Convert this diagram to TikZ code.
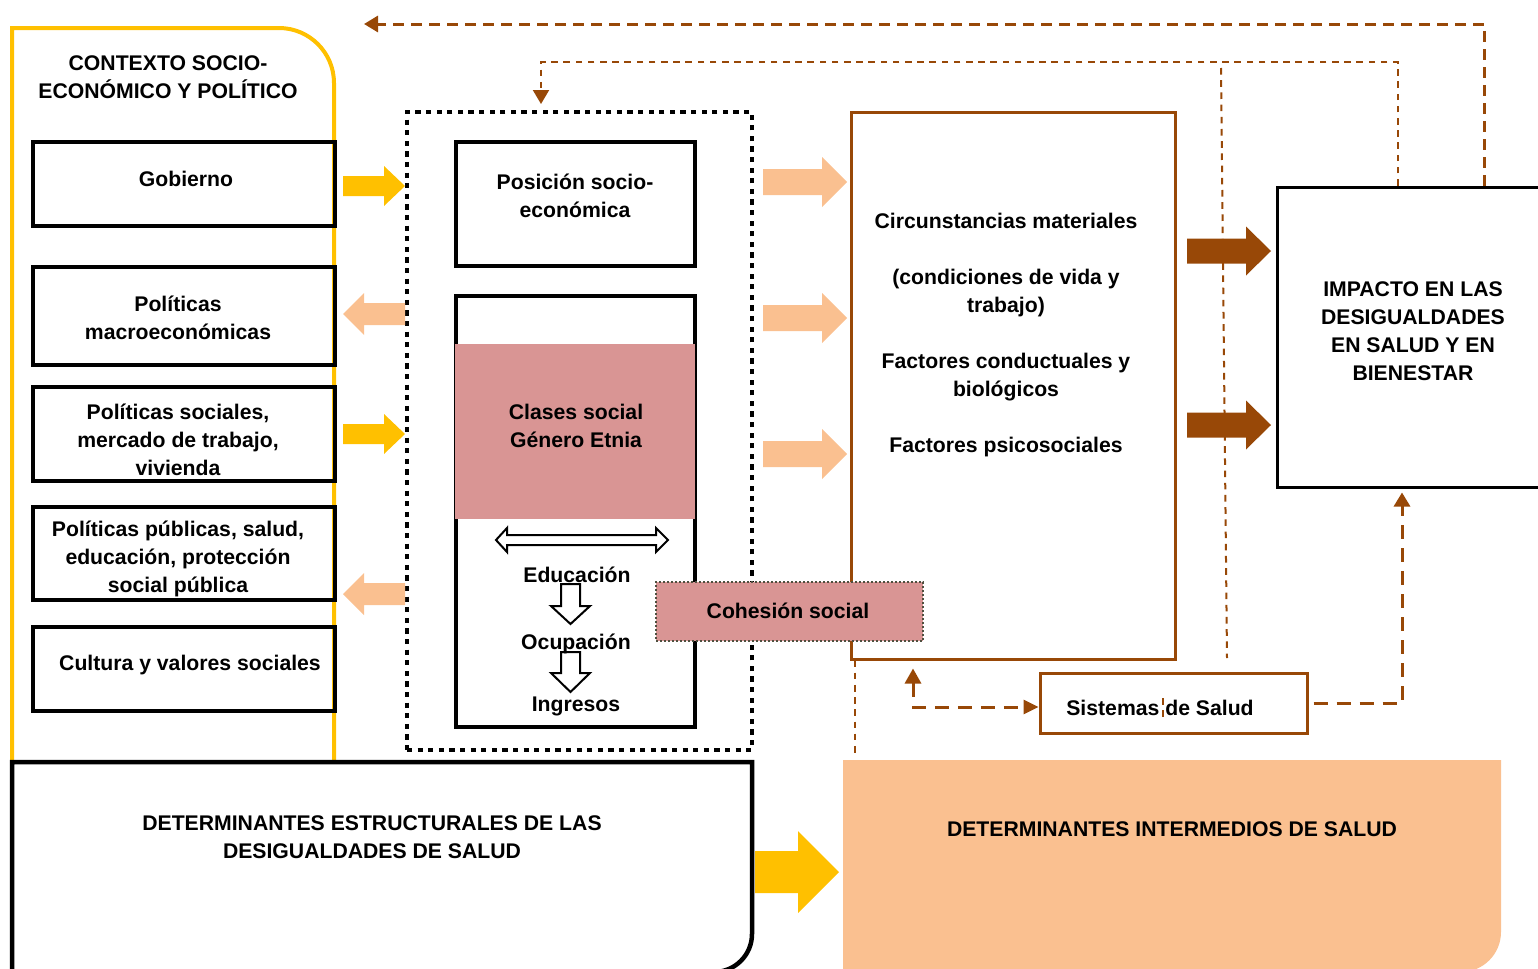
\documentclass[tikz,border=0pt]{standalone}
\usepackage{fontspec}
\setmainfont{Liberation Sans}
\usetikzlibrary{arrows.meta,fit,calc}
\definecolor{amarillo}{HTML}{FFC000}
\definecolor{durazno}{HTML}{FAC090}
\definecolor{cafe}{HTML}{984807}
\definecolor{rosa}{HTML}{D99594}
\definecolor{gristo}{HTML}{4F4F3F}

\begin{document}
\begin{tikzpicture}[x=0.5pt,y=-0.5pt,
  font=\fontsize{10.6}{14}\selectfont\bfseries,
  txt/.style={align=center,inner sep=0pt,yshift=-0.75pt},
  caja/.style={draw,line width=2pt,inner sep=0pt},
  cajacafe/.style={draw=cafe,line width=1.5pt,inner sep=0pt},
  dgrueso/.style={draw=cafe,line width=1.5pt,dash pattern=on 5.5pt off 3.5pt},
  dfino/.style={draw=cafe,line width=1pt,dash pattern=on 3.3pt off 2.8pt},
  dmedio/.style={draw=cafe,line width=1.5pt,dash pattern=on 7pt off 4.5pt},
  punta/.style={-{Triangle[length=7pt,width=8pt]}},
  hueca/.style={draw,fill=white,line width=1pt}]
\useasboundingbox (0,0) rectangle (1538,969);

\draw[amarillo,line width=2pt] (12,762) -- (12,28) -- (279,28) arc[start angle=-90,end angle=0,radius=55] -- (334,762);
\node[caja,fit={(33,142) (335,226)}] (gob) {};
\node[caja,fit={(33,267) (335,365)}] (macro) {};
\node[caja,fit={(33,387) (335,481)}] (soc) {};
\node[caja,fit={(33,507) (335,600)}] (pub) {};
\node[caja,fit={(33,627) (335,711)}] (cult) {};

\node[draw,line width=2.4pt,dash pattern=on 2.6pt off 2.7pt,inner sep=0pt,fit={(407,112) (752,750)}] (marco) {};
\node[caja,fit={(456,142) (695,266)}] (pos) {};
\node[caja,fit={(456,296) (695,727)}] (clas) {};
\node[fill=rosa,inner sep=0pt,fit={(455,344) (695,519)}] (clasf) {};
\draw[hueca] (496,540) -- (507,528) -- (507,535) -- (656,535) -- (656,528) -- (668,540) -- (656,552) -- (656,545) -- (507,545) -- (507,552) -- cycle;
\foreach \a/\b/\c in {584/606/624,652/673/692}
  \draw[hueca] (561,\a) -- (580,\a) -- (580,\b) -- (590,\b) -- (570.5,\c) -- (551,\b) -- (561,\b) -- cycle;

\foreach \y in {186,434}
  \fill[amarillo] (343,\y-10) -- (384,\y-10) -- (384,\y-20) -- (405,\y) -- (384,\y+20) -- (384,\y+10) -- (343,\y+10) -- cycle;
\foreach \y in {314,594}
  \fill[durazno] (405,\y-11) -- (364,\y-11) -- (364,\y-21) -- (343,\y) -- (364,\y+21) -- (364,\y+11) -- (405,\y+11) -- cycle;
\foreach \y in {182,318,454}
  \fill[durazno] (763,\y-13) -- (822,\y-13) -- (822,\y-25) -- (847,\y) -- (822,\y+25) -- (822,\y+13) -- (763,\y+13) -- cycle;

\node[cajacafe,fit={(851,112) (1175,659)}] (inter) {};
\node[caja,line width=1.5pt,fit={(1277,187) (1560,487)}] (imp) {};
\node[cajacafe,fit={(1040,673) (1307,733)}] (sis) {};
\foreach \y in {251,425}
  \fill[cafe] (1187,\y-12.5) -- (1246,\y-12.5) -- (1246,\y-24.5) -- (1271,\y) -- (1246,\y+24.5) -- (1246,\y+12.5) -- (1187,\y+12.5) -- cycle;

\coordinate (c1) at (1484,24);
\coordinate (c1f) at (364,24);
\coordinate (c2) at (1398,62);
\coordinate (c2f) at (541,104);
\coordinate (c3a) at (1221,68);
\coordinate (c3b) at (1227,658);
\coordinate (sx) at (913,0);
\coordinate (ix) at (1402,0);
\coordinate (vx) at (855,0);
\draw[dgrueso,punta] (imp.north -| c1) -- (c1) -- (c1f);
\draw[dfino,punta] (imp.north -| c2) -- (c2) -| (c2f);
\draw[dfino] (c3a) -- (c3b);
\draw[dmedio,{Triangle[length=7.5pt,width=8pt]}-{Triangle[length=7.5pt,width=7pt]}] ($(inter.south -| sx)+(0,8)$) |- ($(sis.west)+(0,4)$);
\draw[dmedio,punta] ([xshift=2.5pt]sis.east) -| ($(imp.south -| ix)+(0,4)$);
\draw[dfino] (inter.south -| vx) -- ++(0,94);
\draw[dfino] (1163,698) -- (1163,718);

\node[fill=rosa,draw=gristo,line width=1pt,densely dotted,inner sep=0pt,fit={(656,582) (923,641)}] (coh) {};

\draw[line width=2.25pt,fill=white] (12,762) -- (752,762) -- (752,934) arc[start angle=0,end angle=90,radius=38] -- (12,972) -- cycle;
\fill[durazno] (843,760) -- (1501,760) -- (1501,932) arc[start angle=0,end angle=90,radius=40] -- (843,972) -- cycle;
\fill[amarillo] (755,851) -- (798,851) -- (798,831) -- (839,872) -- (798,913) -- (798,893) -- (755,893) -- cycle;

\node[txt] (ctxt) at (168,76) {CONTEXTO SOCIO-\\ECONÓMICO Y POLÍTICO};
\node[txt] (gobt) at (186,177) {Gobierno};
\node[txt] (macrot) at (178,316) {Políticas\\macroeconómicas};
\node[txt] (soct) at (178,438) {Políticas sociales,\\mercado de trabajo,\\vivienda};
\node[txt] (pubt) at (178,557) {Políticas públicas, salud,\\educación, protección\\social pública};
\node[txt] (cultt) at (190,664) {Cultura y valores sociales};
\node[txt] (post) at (575,194) {Posición socio-\\económica};
\node[txt] (clast) at (576,424) {Clases social\\Género Etnia};
\node[txt] (edut) at (577,573) {Educación};
\node[txt] (ocut) at (576,642) {Ocupación};
\node[txt] (ingt) at (576,705) {Ingresos};
\node[txt] (coht) at (788,609) {Cohesión social};
\node[txt] (intert) at (1006,334) {Circunstancias materiales\\[14pt](condiciones de vida y\\trabajo)\\[14pt]Factores conductuales y\\biológicos\\[14pt]Factores psicosociales};
\node[txt] (impt) at (1413,330) {IMPACTO EN LAS\\DESIGUALDADES\\EN SALUD Y EN\\BIENESTAR};
\node[txt] (sist) at (1160,706) {Sistemas de Salud};
\node[txt] (estrt) at (372,836) {DETERMINANTES ESTRUCTURALES DE LAS\\DESIGUALDADES DE SALUD};
\node[txt] (intermt) at (1172,828) {DETERMINANTES INTERMEDIOS DE SALUD};
\end{tikzpicture}
\end{document}
